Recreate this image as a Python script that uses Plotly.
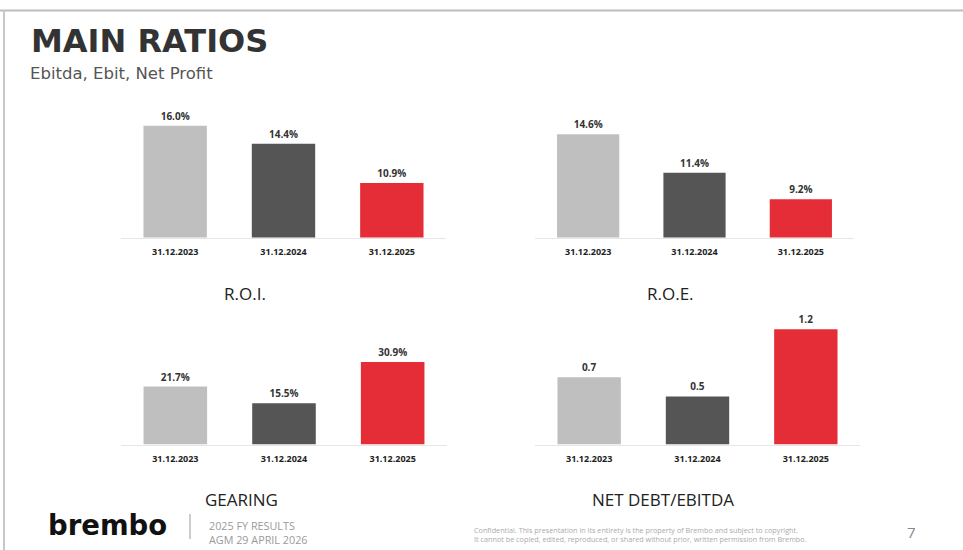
import plotly.graph_objects as go

W, H = 963, 550

dates = ["31.12.2023", "31.12.2024", "31.12.2025"]
roi = [16.0, 14.4, 10.9]
roe = [14.6, 11.4, 9.2]
gearing = [21.7, 15.5, 30.9]
nd_ebitda = [0.7, 0.5, 1.2]
bar_colors = ["#bfbfbf", "#555555", "#e42d37"]

panel_titles = ["R.O.I.", "R.O.E.", "GEARING", "NET DEBT/EBITDA"]


def px_x(p):
    return p / W


def px_y(p):
    return 1 - p / H


# panel pixel layout: (x0, x1, y_top, y_base, yrange)
panels = [
    (roi, "%{y:.1f}%", (121, 446), (100, 237.5), [6.06, 18.29]),
    (roe, "%{y:.1f}%", (535, 854), (100, 237.5), [6.02, 17.44]),
    (gearing, "%{y:.1f}%", (121, 447), (310, 444.5), [0, 50.4]),
    (nd_ebitda, "%{y:.1f}", (535, 860), (310, 444.5), [0, 1.40]),
]

fig = go.Figure()
layout = {}
for i, (vals, tmpl, (x0, x1), (yt, yb), yr) in enumerate(panels):
    n = "" if i == 0 else str(i + 1)
    fig.add_trace(go.Bar(
        x=dates, y=vals,
        xaxis="x" + n, yaxis="y" + n,
        marker=dict(color=bar_colors, line=dict(width=0)),
        texttemplate=tmpl, textposition="outside",
        textfont=dict(family="Open Sans", size=10, color="#333333", weight="bold"),
        cliponaxis=False, showlegend=False, hoverinfo="skip",
    ))
    layout["xaxis" + n] = dict(
        domain=[px_x(x0), px_x(x1)], anchor="y" + n,
        showgrid=False, zeroline=False, showline=True, linecolor="#e6e6e6", linewidth=1,
        ticks="", tickfont=dict(family="Open Sans", size=9, color="#222222", weight="bold"),
        ticklabelstandoff=6, fixedrange=True,
    )
    layout["yaxis" + n] = dict(
        domain=[px_y(yb), px_y(yt)], anchor="x" + n, range=yr,
        showgrid=False, zeroline=False, showline=False, showticklabels=False, fixedrange=True,
    )

fig.update_layout(**layout)

title_pos = [(245, 293), (670, 293), (241, 499), (663, 499)]
annotations = []
for t, (x, y) in zip(panel_titles, title_pos):
    annotations.append(dict(
        text=t, x=px_x(x), y=px_y(y), xref="paper", yref="paper",
        xanchor="center", yanchor="middle", showarrow=False,
        font=dict(family="Open Sans", size=17, color="#222222"),
    ))

annotations += [
    dict(text="<b>MAIN RATIOS</b>", x=px_x(29), y=px_y(41), xref="paper", yref="paper",
         xanchor="left", yanchor="middle", showarrow=False,
         font=dict(family="DejaVu Sans", size=32, color="#333333")),
    dict(text="Ebitda, Ebit, Net Profit", x=px_x(28), y=px_y(74), xref="paper", yref="paper",
         xanchor="left", yanchor="middle", showarrow=False,
         font=dict(family="DejaVu Sans", size=16.5, color="#555555")),
    dict(text="<b>brembo</b>", x=px_x(46), y=px_y(525), xref="paper", yref="paper",
         xanchor="left", yanchor="middle", showarrow=False,
         font=dict(family="DejaVu Sans", size=27.5, color="#111111")),
    dict(text="2025 FY RESULTS<br>AGM 29 APRIL 2026", x=px_x(207), y=px_y(532), xref="paper", yref="paper",
         xanchor="left", yanchor="middle", align="left", showarrow=False,
         font=dict(family="Open Sans", size=10.8, color="#9a9a9a")),
    dict(text="Confidential. This presentation in its entirety is the property of Brembo and subject to copyright.<br>"
              "It cannot be copied, edited, reproduced, or shared without prior, written permission from Brembo.",
         x=px_x(472), y=px_y(534), xref="paper", yref="paper",
         xanchor="left", yanchor="middle", align="left", showarrow=False,
         font=dict(family="Open Sans", size=7.25, color="#aaaaaa")),
    dict(text="7", x=px_x(911), y=px_y(532), xref="paper", yref="paper",
         xanchor="center", yanchor="middle", showarrow=False,
         font=dict(family="Open Sans", size=15, color="#888888")),
]

shapes = [
    dict(type="line", xref="paper", yref="paper", x0=0, x1=1, y0=px_y(10.5), y1=px_y(10.5),
         line=dict(color="#bdbdbd", width=2)),
    dict(type="line", xref="paper", yref="paper", x0=px_x(4), x1=px_x(4), y0=0, y1=px_y(10.5),
         line=dict(color="#c8c8c8", width=2)),
    dict(type="line", xref="paper", yref="paper", x0=px_x(190), x1=px_x(190), y0=px_y(514), y1=px_y(539),
         line=dict(color="#999999", width=1)),
]

fig.update_layout(
    width=W, height=H, autosize=False,
    margin=dict(l=0, r=0, t=0, b=0),
    paper_bgcolor="white", plot_bgcolor="white",
    bargap=0.415,
    annotations=annotations, shapes=shapes,
)

fig.write_html("out.html", config={"displayModeBar": False},
               post_script="document.body.style.margin='0';document.body.style.overflow='hidden';")
